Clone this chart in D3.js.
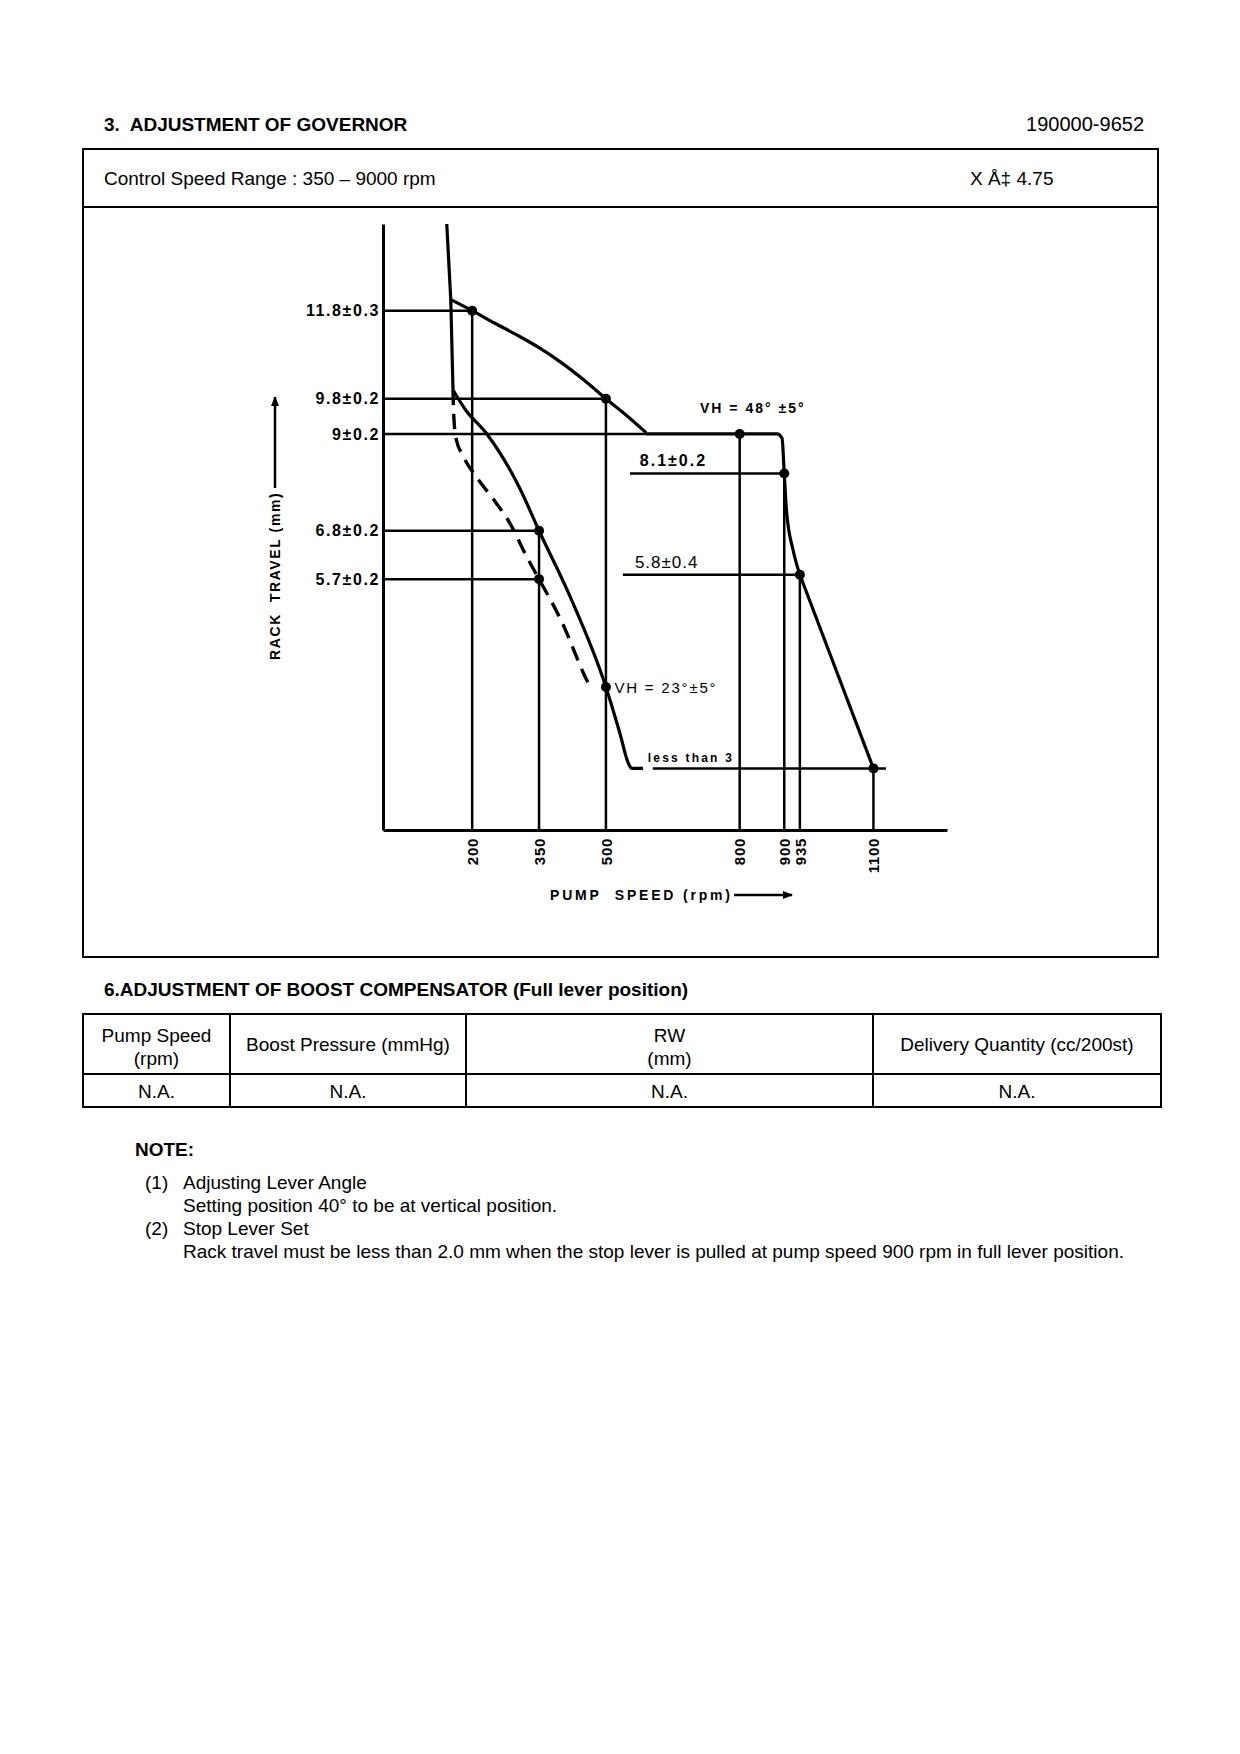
<!DOCTYPE html>
<html>
<head>
<meta charset="utf-8">
<script src="https://cdn.jsdelivr.net/npm/d3@7"></script>
<style>
  body { margin: 0; background: #fff; }
  svg { display: block; }
  text { font-family: "Liberation Sans", Arial, sans-serif; fill: #000; white-space: pre; }
</style>
</head>
<body>
<script>
// pump speed ticks (rpm) and rack travel ticks (mm)
const speedTicks = [200, 350, 500, 800, 900, 935, 1100];
const rackTicks = [11.8, 9.8, 9.0, 6.8, 5.7];
const rackTickLabels = ['11.8±0.3', '9.8±0.2', '9±0.2', '6.8±0.2', '5.7±0.2'];
// rack travel (mm) where each speed line starts, same order as speedTicks
const speedLineTop = [11.8, 6.8, 9.8, 9.0, 8.1, 5.8, 1.4];

// horizontal guide lines: [from rpm, to rpm, mm]
const rackLines = [[0, 200, 11.8], [0, 500, 9.8], [0, 590, 9.0], [0, 350, 6.8], [0, 350, 5.7],
  [554, 900, 8.1], [538, 935, 5.8], [605, 1128, 1.4]];

// curves: [rpm, mm]
const startLine = [[143, 13.77], [152, 12.05], [157, 10.0]];
const fullLoad = [[152, 12.05], [200, 11.8], [250, 11.52], [300, 11.25], [350, 10.96], [400, 10.62],
  [450, 10.23], [500, 9.8], [545, 9.43], [590, 9.03]];
const governor = [[590, 9.0], [884, 9.0], [895, 8.9], [900, 8.1], [905, 7.25], [920, 6.35], [935, 5.8]];
const droop = [[935, 5.8], [1100, 1.4]];
const idleSolid = [[157, 10.0], [185, 9.55], [233, 9.0], [307, 7.76], [350, 6.8], [419, 5.32],
  [500, 3.25], [531, 2.21], [551, 1.5], [558, 1.4], [583, 1.4]];
const idleDashed = [[157, 10.0], [158, 9.6], [160, 9.2], [165, 8.85], [177, 8.55], [211, 8.0],
  [251, 7.47], [280, 7.05], [325, 6.16], [350, 5.7], [401, 4.73], [453, 3.49], [462, 3.3]];
const checkPoints = [[200, 11.8], [500, 9.8], [800, 9.0], [900, 8.1], [935, 5.8], [1100, 1.4],
  [350, 6.8], [350, 5.7], [500, 3.25]];

// table
const tableHead = [['Pump Speed', '(rpm)'], ['Boost Pressure (mmHg)'], ['RW', '(mm)'], ['Delivery Quantity (cc/200st)']];
const tableRow = ['N.A.', 'N.A.', 'N.A.', 'N.A.'];

const svg = d3.select('body').append('svg')
  .attr('width', 1240)
  .attr('height', 1754);

// page header
svg.append('text').attr('x', 104).attr('y', 131)
  .attr('font-size', 19).attr('font-weight', 'bold')
  .text('3.  ADJUSTMENT OF GOVERNOR');
svg.append('text').attr('x', 1144).attr('y', 131)
  .attr('font-size', 20).attr('text-anchor', 'end')
  .text('190000-9652');

// chart frame
svg.append('rect').attr('x', 83).attr('y', 149).attr('width', 1075).attr('height', 808)
  .attr('fill', 'none').attr('stroke', '#000').attr('stroke-width', 2);
svg.append('line').attr('x1', 83).attr('x2', 1158).attr('y1', 207).attr('y2', 207)
  .attr('stroke', '#000').attr('stroke-width', 2);
svg.append('text').attr('x', 104).attr('y', 185).attr('font-size', 19)
  .text('Control Speed Range : 350 – 9000 rpm');
svg.append('text').attr('x', 970).attr('y', 185).attr('font-size', 19)
  .text('X Å‡ 4.75');

const x = d3.scaleLinear().domain([0, 1265]).range([383, 947]);
const y = d3.scaleLinear().domain([0, 13.77]).range([830, 224]);

const chart = svg.append('g');

// axes
const yAxis = chart.append('g')
  .attr('transform', `translate(${x(0)},0)`)
  .call(d3.axisLeft(y).tickValues(rackTicks).tickFormat((d, i) => rackTickLabels[i])
    .tickSize(0).tickSizeOuter(0).tickPadding(3));
yAxis.select('.domain').attr('stroke-width', 3);
yAxis.selectAll('text')
  .attr('font-size', 16).attr('font-weight', 'bold').attr('letter-spacing', 1.6)
  .attr('font-family', '"Liberation Sans", Arial, sans-serif');

const xAxis = chart.append('g')
  .attr('transform', `translate(0,${y(0)})`)
  .call(d3.axisBottom(x).tickValues(speedTicks).tickFormat(d3.format('d'))
    .tickSize(0).tickSizeOuter(0));
xAxis.select('.domain').attr('stroke-width', 3);
xAxis.selectAll('text')
  .attr('transform', 'rotate(-90)')
  .attr('text-anchor', 'end')
  .attr('x', -8).attr('y', 0).attr('dy', '0.35em')
  .attr('font-size', 15).attr('font-weight', 'bold').attr('letter-spacing', 0.7)
  .attr('font-family', '"Liberation Sans", Arial, sans-serif');

// guide lines
chart.selectAll('.rack-line').data(rackLines).enter().append('line')
  .attr('class', 'rack-line')
  .attr('x1', d => x(d[0])).attr('x2', d => x(d[1]))
  .attr('y1', d => y(d[2])).attr('y2', d => y(d[2]))
  .attr('stroke', '#000').attr('stroke-width', 2.5);

chart.selectAll('.speed-line').data(speedTicks).enter().append('line')
  .attr('class', 'speed-line')
  .attr('x1', d => x(d)).attr('x2', d => x(d))
  .attr('y1', (d, i) => y(speedLineTop[i])).attr('y2', y(0))
  .attr('stroke', '#000').attr('stroke-width', 2.5);

// curves
const line = d3.line().x(d => x(d[0])).y(d => y(d[1]));
const smooth = d3.line().x(d => x(d[0])).y(d => y(d[1])).curve(d3.curveMonotoneX);

const curves = [
  { data: startLine, gen: line },
  { data: fullLoad, gen: smooth },
  { data: governor, gen: smooth },
  { data: droop, gen: line },
  { data: idleSolid, gen: smooth }
];
curves.forEach(c => {
  chart.append('path').attr('d', c.gen(c.data))
    .attr('fill', 'none').attr('stroke', '#000').attr('stroke-width', 3.2)
    .attr('stroke-linejoin', 'round');
});
chart.append('path').attr('d', smooth(idleDashed))
  .attr('fill', 'none').attr('stroke', '#000').attr('stroke-width', 3.4)
  .attr('stroke-dasharray', '15,9');

chart.selectAll('.pt').data(checkPoints).enter().append('circle')
  .attr('class', 'pt')
  .attr('cx', d => x(d[0])).attr('cy', d => y(d[1]))
  .attr('r', 5).attr('fill', '#000');

// annotations
chart.append('text').attr('x', x(711)).attr('y', y(9.6) + 5)
  .attr('font-size', 14).attr('font-weight', 'bold').attr('letter-spacing', 2)
  .text('VH = 48° ±5°');
chart.append('text').attr('x', x(576)).attr('y', y(8.1) - 8)
  .attr('font-size', 16).attr('font-weight', 'bold').attr('letter-spacing', 2)
  .text('8.1±0.2');
chart.append('text').attr('x', x(565)).attr('y', y(5.8) - 7)
  .attr('font-size', 17).attr('letter-spacing', 1)
  .text('5.8±0.4');
chart.append('text').attr('x', x(519)).attr('y', y(3.25) + 6)
  .attr('font-size', 15).attr('letter-spacing', 1.8)
  .text('VH = 23°±5°');
chart.append('text').attr('x', x(594)).attr('y', y(1.4) - 6)
  .attr('font-size', 12).attr('font-weight', 'bold').attr('letter-spacing', 2.2)
  .text('less than 3');

// axis titles with arrows
const defs = svg.append('defs');
defs.append('marker').attr('id', 'arrow')
  .attr('viewBox', '0 0 10 10').attr('refX', 9).attr('refY', 5)
  .attr('markerWidth', 5).attr('markerHeight', 4).attr('orient', 'auto')
  .append('path').attr('d', 'M0,1L10,5L0,9Z').attr('fill', '#000');

svg.append('text')
  .attr('transform', 'translate(280,660) rotate(-90)')
  .attr('font-size', 14).attr('font-weight', 'bold').attr('letter-spacing', 1.6)
  .text('RACK  TRAVEL (mm)');
svg.append('line').attr('x1', 275).attr('x2', 275).attr('y1', 488).attr('y2', 397)
  .attr('stroke', '#000').attr('stroke-width', 2.5).attr('marker-end', 'url(#arrow)');

svg.append('text').attr('x', 550).attr('y', 900)
  .attr('font-size', 14).attr('font-weight', 'bold').attr('letter-spacing', 2.8)
  .text('PUMP  SPEED (rpm)');
svg.append('line').attr('x1', 734).attr('x2', 792).attr('y1', 895).attr('y2', 895)
  .attr('stroke', '#000').attr('stroke-width', 2.5).attr('marker-end', 'url(#arrow)');

// boost compensator table
svg.append('text').attr('x', 104).attr('y', 996)
  .attr('font-size', 19).attr('font-weight', 'bold')
  .text('6.ADJUSTMENT OF BOOST COMPENSATOR (Full lever position)');

const colEdges = [83, 230, 466, 873, 1161];
const rowEdges = [1014, 1074, 1107];
svg.append('rect').attr('x', colEdges[0]).attr('y', rowEdges[0])
  .attr('width', colEdges[4] - colEdges[0]).attr('height', rowEdges[2] - rowEdges[0])
  .attr('fill', 'none').attr('stroke', '#000').attr('stroke-width', 2);
svg.append('line').attr('x1', colEdges[0]).attr('x2', colEdges[4])
  .attr('y1', rowEdges[1]).attr('y2', rowEdges[1])
  .attr('stroke', '#000').attr('stroke-width', 2);
colEdges.slice(1, 4).forEach(cx => {
  svg.append('line').attr('x1', cx).attr('x2', cx).attr('y1', rowEdges[0]).attr('y2', rowEdges[2])
    .attr('stroke', '#000').attr('stroke-width', 2);
});
tableHead.forEach((lines, i) => {
  const cx = (colEdges[i] + colEdges[i + 1]) / 2;
  const top = lines.length === 1 ? 1051 : 1042;
  lines.forEach((t, j) => {
    svg.append('text').attr('x', cx).attr('y', top + j * 23)
      .attr('font-size', 19).attr('text-anchor', 'middle').text(t);
  });
});
tableRow.forEach((t, i) => {
  svg.append('text').attr('x', (colEdges[i] + colEdges[i + 1]) / 2).attr('y', 1098)
    .attr('font-size', 19).attr('text-anchor', 'middle').text(t);
});

// notes
svg.append('text').attr('x', 135).attr('y', 1156)
  .attr('font-size', 19).attr('font-weight', 'bold').text('NOTE:');
const noteLines = [
  [145, 1189, '(1)'], [183, 1189, 'Adjusting Lever Angle'],
  [183, 1212, 'Setting position 40° to be at vertical position.'],
  [145, 1235, '(2)'], [183, 1235, 'Stop Lever Set'],
  [183, 1258, 'Rack travel must be less than 2.0 mm when the stop lever is pulled at pump speed 900 rpm in full lever position.']
];
noteLines.forEach(n => {
  svg.append('text').attr('x', n[0]).attr('y', n[1]).attr('font-size', 19).text(n[2]);
});
</script>
</body>
</html>
